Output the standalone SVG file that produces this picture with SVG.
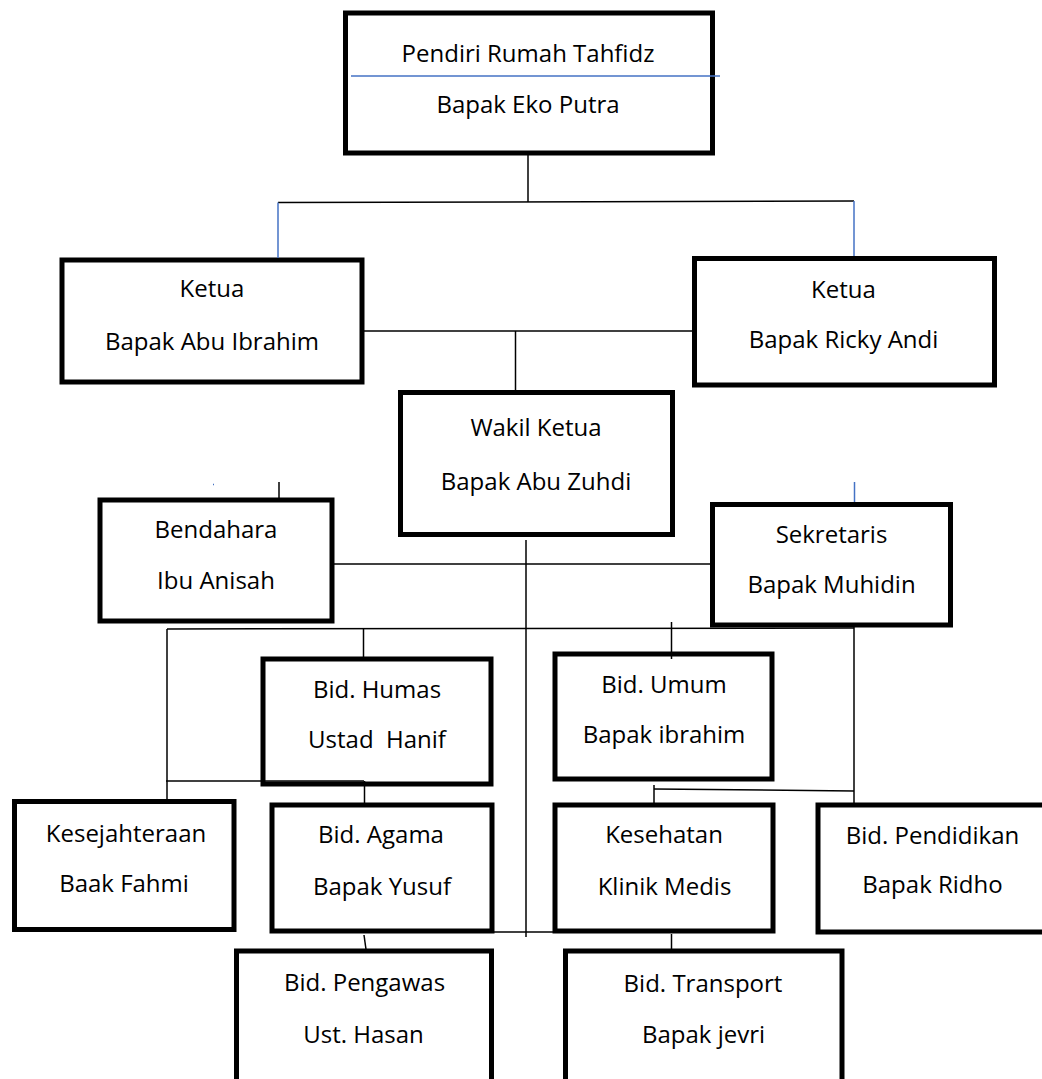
<svg xmlns="http://www.w3.org/2000/svg" width="1042" height="1079" viewBox="0 0 1042 1079">
<style>
.box{fill:#fff;stroke:#000;stroke-width:5}
.t{font-family:"Open Sans","Noto Sans",sans-serif;font-size:24px;fill:#000;text-anchor:middle}
.c{stroke:#000;stroke-width:1.5;fill:none}
.b{stroke:#4472C4;stroke-width:1.5;fill:none}
</style>
<rect width="1042" height="1079" fill="#fff"/>
<g id="n-pendiri">
<rect class="box" x="345.5" y="13" width="367" height="140"/>
<text class="t" x="528" y="62">Pendiri Rumah Tahfidz</text>
<text class="t" x="528" y="113">Bapak Eko Putra</text>
</g>
<g id="n-ketua1">
<rect class="box" x="62" y="260" width="300" height="122"/>
<text class="t" x="212" y="297">Ketua</text>
<text class="t" x="212" y="350">Bapak Abu Ibrahim</text>
</g>
<g id="n-ketua2">
<rect class="box" x="694.5" y="258.5" width="300" height="126.5"/>
<text class="t" x="843.5" y="298">Ketua</text>
<text class="t" x="843.5" y="348">Bapak Ricky Andi</text>
</g>
<g id="n-wakil">
<rect class="box" x="400.5" y="392.5" width="272" height="142"/>
<text class="t" x="536" y="436">Wakil Ketua</text>
<text class="t" x="536" y="490">Bapak Abu Zuhdi</text>
</g>
<g id="n-bendahara">
<rect class="box" x="100" y="500" width="232" height="121"/>
<text class="t" x="216" y="538">Bendahara</text>
<text class="t" x="216" y="589">Ibu Anisah</text>
</g>
<g id="n-sekretaris">
<rect class="box" x="712.5" y="504.5" width="238" height="120.5"/>
<text class="t" x="831.5" y="543">Sekretaris</text>
<text class="t" x="831.5" y="593">Bapak Muhidin</text>
</g>
<g id="n-humas">
<rect class="box" x="263" y="659" width="228" height="125"/>
<text class="t" x="377" y="698">Bid. Humas</text>
<text class="t" x="377" y="748" xml:space="preserve">Ustad  Hanif</text>
</g>
<g id="n-umum">
<rect class="box" x="555" y="654" width="217" height="125"/>
<text class="t" x="664" y="693">Bid. Umum</text>
<text class="t" x="664" y="743">Bapak ibrahim</text>
</g>
<g id="n-kesejahteraan">
<rect class="box" x="14.5" y="801.5" width="219.5" height="128"/>
<text class="t" x="126" y="842">Kesejahteraan</text>
<text class="t" x="124" y="892">Baak Fahmi</text>
</g>
<g id="n-agama">
<rect class="box" x="272" y="805" width="220" height="126"/>
<text class="t" x="381" y="843">Bid. Agama</text>
<text class="t" x="382" y="895">Bapak Yusuf</text>
</g>
<g id="n-kesehatan">
<rect class="box" x="555" y="805" width="218" height="126"/>
<text class="t" x="664" y="843">Kesehatan</text>
<text class="t" x="664.5" y="895">Klinik Medis</text>
</g>
<g id="n-pendidikan">
<rect class="box" x="818" y="805" width="229" height="127"/>
<text class="t" x="932.5" y="844">Bid. Pendidikan</text>
<text class="t" x="932.5" y="893">Bapak Ridho</text>
</g>
<g id="n-pengawas">
<rect class="box" x="236.5" y="951" width="255" height="140"/>
<text class="t" x="364.5" y="991">Bid. Pengawas</text>
<text class="t" x="363.5" y="1043">Ust. Hasan</text>
</g>
<g id="n-transport">
<rect class="box" x="565.5" y="951" width="276.5" height="140"/>
<text class="t" x="703" y="992">Bid. Transport</text>
<text class="t" x="703.5" y="1043">Bapak jevri</text>
</g>
<g id="connectors">
<line class="b" x1="351" y1="76" x2="720" y2="76"/>
<line class="c" x1="528" y1="155" x2="528" y2="202"/>
<line class="c" x1="278" y1="202.5" x2="854" y2="201"/>
<line class="b" x1="278" y1="202.5" x2="278" y2="258"/>
<line class="b" x1="854" y1="201" x2="854" y2="256"/>
<line class="c" x1="364" y1="331" x2="692" y2="331"/>
<line class="c" x1="515.5" y1="331" x2="515.5" y2="390"/>
<line class="b" x1="213" y1="484.5" x2="214" y2="484.5"/>
<line class="c" x1="279" y1="482" x2="279" y2="498"/>
<line class="b" x1="854.5" y1="482" x2="854.5" y2="502"/>
<line class="c" x1="333" y1="564" x2="710" y2="564"/>
<line class="c" x1="526" y1="540" x2="526" y2="937"/>
<line class="c" x1="167" y1="629" x2="854" y2="628"/>
<line class="c" x1="167" y1="629" x2="167" y2="799"/>
<line class="c" x1="363.5" y1="629" x2="363.5" y2="657"/>
<line class="c" x1="671.5" y1="622" x2="671.5" y2="659"/>
<line class="c" x1="854" y1="627" x2="854" y2="803"/>
<line class="c" x1="166" y1="781" x2="364" y2="781"/>
<line class="c" x1="364.5" y1="781" x2="364.5" y2="803"/>
<line class="c" x1="654" y1="785" x2="654" y2="803"/>
<line class="c" x1="654" y1="789" x2="854" y2="791"/>
<line class="c" x1="493" y1="932" x2="555" y2="932"/>
<line class="c" x1="364" y1="935" x2="366.5" y2="953"/>
<line class="c" x1="671.5" y1="934" x2="671.5" y2="949"/>
</g>
</svg>
